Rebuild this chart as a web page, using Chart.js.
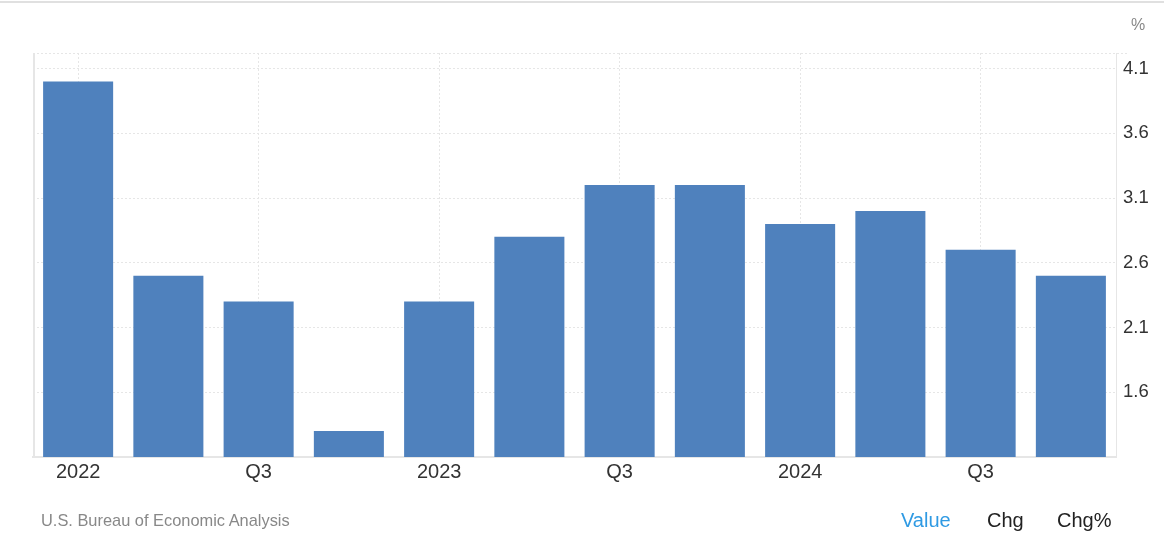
<!DOCTYPE html>
<html>
<head>
<meta charset="utf-8">
<script src="https://cdn.jsdelivr.net/npm/chart.js@4"></script>
<style>
    body { margin: 0; background: #fff; font-family: "Liberation Sans", Arial, sans-serif; }
    #wrap { position: relative; width: 1164px; height: 557px; }
    #topline { position: absolute; left: 0; top: 1px; width: 1164px; height: 0; border-top: 2px solid #e0e0e0; }
    .txt { position: absolute; white-space: nowrap; }
</style>
</head>
<body>
<div id="wrap">
    <div id="topline"></div>
    <canvas id="chart" width="1164" height="557"></canvas>
    <div class="txt" style="left:1131px; top:16px; font-size:16px; color:#888;">%</div>
    <div class="txt" style="left:41px; top:511px; font-size:16.4px; color:#888;">U.S. Bureau of Economic Analysis</div>
    <div class="txt" style="left:901px; top:509px; font-size:20px; color:#2f9ae3;">Value</div>
    <div class="txt" style="left:987px; top:509px; font-size:20px; color:#222;">Chg</div>
    <div class="txt" style="left:1057px; top:509px; font-size:20px; color:#222;">Chg%</div>
</div>
<script>
const categories = ['2022', '', 'Q3', '', '2023', '', 'Q3', '', '2024', '', 'Q3', ''];
const values = [4.0, 2.5, 2.3, 1.3, 2.3, 2.8, 3.2, 3.2, 2.9, 3.0, 2.7, 2.5];
const yTicks = [1.6, 2.1, 2.6, 3.1, 3.6, 4.1];

// left border and dotted top line of the plot area
const frame = {
    id: 'frame',
    beforeDatasetsDraw(chart) {
        const { ctx, chartArea: a } = chart;
        ctx.save();
        ctx.strokeStyle = '#e6e6e6';
        ctx.lineWidth = 1;
        ctx.setLineDash([2, 2]);
        ctx.beginPath();
        ctx.moveTo(a.left, a.top + 0.5);
        ctx.lineTo(a.right + 12, a.top + 0.5);
        ctx.stroke();
        ctx.setLineDash([]);
        ctx.lineWidth = 2;
        ctx.beginPath();
        ctx.moveTo(a.left + 1, a.top);
        ctx.lineTo(a.left + 1, a.bottom);
        ctx.stroke();
        ctx.restore();
    }
};

new Chart(document.getElementById('chart'), {
    type: 'bar',
    data: {
        labels: categories,
        datasets: [{
            data: values,
            backgroundColor: '#4f81bd',
            barPercentage: 0.776,
            categoryPercentage: 1
        }]
    },
    options: {
        responsive: false,
        animation: false,
        layout: { padding: { left: 33, top: 53, right: 0, bottom: 70 } },
        plugins: { legend: { display: false }, tooltip: { enabled: false } },
        scales: {
            x: {
                grid: {
                    offset: false,
                    drawTicks: false,
                    color: c => (c.tick && c.tick.label ? '#e6e6e6' : 'rgba(0,0,0,0)')
                },
                border: { color: '#e6e6e6', width: 2, dash: [2, 2] },
                ticks: {
                    autoSkip: false,
                    maxRotation: 0,
                    padding: 3,
                    color: '#333',
                    font: { family: 'Liberation Sans', size: 20 }
                },
                afterFit(s) { s.height = 30; }
            },
            y: {
                position: 'right',
                min: 1.1,
                max: 4.22,
                afterBuildTicks(s) { s.ticks = yTicks.map(v => ({ value: v })); },
                grid: { drawTicks: false, color: '#e6e6e6' },
                border: { color: '#e6e6e6', width: 1, dash: [2, 2] },
                ticks: {
                    padding: 7,
                    color: '#333',
                    font: { family: 'Liberation Sans', size: 18.5 },
                    callback: v => v.toFixed(1)
                },
                afterFit(s) { s.width = 48; }
            }
        }
    },
    plugins: [frame]
});
</script>
</body>
</html>
